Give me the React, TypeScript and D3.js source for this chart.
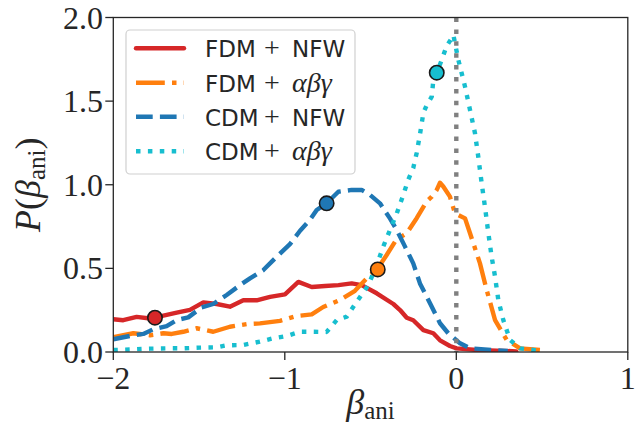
import React from 'react';
import * as d3 from 'd3';

// ---- data ----
const fdmNfwX = [-2.0, -1.942, -1.864, -1.786, -1.630, -1.553, -1.475, -1.397, -1.320, -1.242, -1.164, -1.086, -0.999, -0.921, -0.843, -0.765, -0.687, -0.610, -0.552, -0.464, -0.367, -0.328, -0.289, -0.251, -0.192, -0.134, -0.095, -0.037, 0.002, 0.119, 0.236, 0.35];
const fdmNfwY = [0.196, 0.19, 0.21, 0.20, 0.235, 0.252, 0.297, 0.287, 0.271, 0.309, 0.309, 0.33, 0.345, 0.419, 0.389, 0.395, 0.40, 0.41, 0.40, 0.351, 0.287, 0.251, 0.205, 0.19, 0.131, 0.112, 0.07, 0.036, 0.022, 0.012, 0.008, 0.004];

const fdmAbgX = [-2.0, -1.883, -1.786, -1.708, -1.659, -1.592, -1.514, -1.417, -1.320, -1.222, -1.145, -1.028, -0.931, -0.843, -0.776, -0.679, -0.591, -0.513, -0.458, -0.406, -0.357, -0.328, -0.289, -0.231, -0.173, -0.143, -0.114, -0.095, -0.076, -0.037, -0.008, 0.051, 0.080, 0.138, 0.177, 0.226, 0.294, 0.372, 0.488];
const fdmAbgY = [0.088, 0.112, 0.10, 0.112, 0.108, 0.121, 0.142, 0.121, 0.151, 0.167, 0.171, 0.186, 0.215, 0.225, 0.269, 0.311, 0.366, 0.45, 0.50, 0.58, 0.66, 0.686, 0.71, 0.80, 0.90, 0.929, 0.969, 1.012, 0.99, 0.929, 0.829, 0.799, 0.71, 0.53, 0.371, 0.191, 0.072, 0.022, 0.012];

const cdmNfwX = [-2.0, -1.903, -1.825, -1.767, -1.689, -1.630, -1.563, -1.485, -1.417, -1.339, -1.261, -1.203, -1.125, -1.047, -0.970, -0.911, -0.853, -0.814, -0.756, -0.688, -0.610, -0.552, -0.503, -0.445, -0.387, -0.347, -0.299, -0.251, -0.212, -0.143, -0.095, -0.047, 0.022, 0.080, 0.216, 0.30];
const cdmNfwY = [0.076, 0.096, 0.108, 0.136, 0.155, 0.191, 0.207, 0.267, 0.287, 0.341, 0.40, 0.44, 0.49, 0.57, 0.645, 0.725, 0.79, 0.849, 0.889, 0.958, 0.969, 0.969, 0.939, 0.889, 0.799, 0.729, 0.63, 0.53, 0.41, 0.271, 0.172, 0.112, 0.052, 0.022, 0.012, 0.006];

const cdmAbgX = [-2.0, -1.883, -1.786, -1.689, -1.592, -1.494, -1.397, -1.339, -1.242, -1.145, -1.067, -0.989, -0.911, -0.834, -0.756, -0.697, -0.639, -0.581, -0.513, -0.464, -0.426, -0.387, -0.347, -0.309, -0.280, -0.251, -0.231, -0.212, -0.192, -0.173, -0.143, -0.134, -0.114, -0.085, -0.056, -0.037, -0.017, 0.012, 0.051, 0.080, 0.109, 0.128, 0.148, 0.167, 0.187, 0.206, 0.226, 0.245, 0.274, 0.313, 0.372, 0.449, 0.50];
const cdmAbgY = [0.012, 0.016, 0.02, 0.022, 0.022, 0.026, 0.028, 0.04, 0.042, 0.062, 0.082, 0.096, 0.121, 0.121, 0.12, 0.191, 0.211, 0.30, 0.40, 0.52, 0.63, 0.729, 0.829, 0.94, 1.03, 1.10, 1.19, 1.30, 1.43, 1.475, 1.527, 1.626, 1.67, 1.746, 1.83, 1.86, 1.895, 1.746, 1.586, 1.447, 1.308, 1.168, 1.009, 0.869, 0.71, 0.57, 0.45, 0.311, 0.191, 0.072, 0.022, 0.012, 0.005];

const markerX = [-1.757, -0.458, -0.756, -0.114];
const markerY = [0.205, 0.494, 0.889, 1.67];

const xTicks = [-2, -1, 0, 1];
const yTicks = [0, 0.5, 1.0, 1.5, 2.0];

const labelPrefix = ['FDM', 'FDM', 'CDM', 'CDM'];
const labelSuffix = ['NFW', 'αβγ', 'NFW', 'αβγ'];

const colors = ['#d62728', '#ff7f0e', '#1f77b4', '#17becf'];
const dashes = ['none', '28.8 7.2 4.5 7.2', '16.7 7.2', '4.5 7.4'];

const W = 642;
const H = 430;
const LW = 4.4;
const INK = '#262626';

export default function App() {
  const x = d3.scaleLinear().domain([-2, 1]).range([113.3, 627.8]);
  const y = d3.scaleLinear().domain([0, 2]).range([352, 17.5]);
  const [x0, x1] = x.range();
  const [yb, yt] = y.range();

  const series = [
    [fdmNfwX, fdmNfwY],
    [fdmAbgX, fdmAbgY],
    [cdmNfwX, cdmNfwY],
    [cdmAbgX, cdmAbgY],
  ];
  const line = d3
    .line<[number, number]>()
    .x((d) => x(d[0]))
    .y((d) => y(d[1]));

  const fmtX = d3.format('d');
  const fmtY = d3.format('.1f');
  const serif = "'Liberation Serif', 'Times New Roman', serif";
  const sans = "'DejaVu Sans', sans-serif";

  const legendRows = [48.3, 82.7, 116.7, 151.3];

  return (
    <svg
      width={W}
      height={H}
      style={{ position: 'absolute', left: 0, top: 0, background: '#fff' }}
    >
      <rect x={0} y={0} width={W} height={H} fill="#fff" />
      <defs>
        <clipPath id="plotclip">
          <rect x={x0} y={yt} width={x1 - x0} height={yb - yt} />
        </clipPath>
      </defs>

      <g clipPath="url(#plotclip)">
        {series.map(([xs, ys], i) => (
          <path
            key={i}
            d={line(xs.map((v, k) => [v, ys[k]] as [number, number])) || ''}
            fill="none"
            stroke={colors[i]}
            strokeWidth={LW}
            strokeDasharray={dashes[i]}
            strokeLinejoin="round"
            strokeLinecap={i === 0 ? 'round' : 'butt'}
          />
        ))}
        <line
          x1={x(0)}
          x2={x(0)}
          y1={yt}
          y2={yb}
          stroke="#808080"
          strokeWidth={LW}
          strokeDasharray="4.5 7.4"
        />
        {markerX.map((mx, i) => (
          <circle
            key={i}
            cx={x(mx)}
            cy={y(markerY[i])}
            r={7.2}
            fill={colors[i]}
            stroke="#1a1a1a"
            strokeWidth={1.6}
          />
        ))}
      </g>

      {/* frame */}
      <rect
        x={x0}
        y={yt}
        width={x1 - x0}
        height={yb - yt}
        fill="none"
        stroke={INK}
        strokeWidth={1.3}
      />

      {/* x ticks */}
      {xTicks.map((t) => (
        <g key={t}>
          <line x1={x(t)} x2={x(t)} y1={yb} y2={yb + 8} stroke={INK} strokeWidth={1.3} />
          <text
            x={x(t)}
            y={389}
            textAnchor="middle"
            fontFamily={serif}
            fontSize={32}
            fill={INK}
          >
            {fmtX(t)}
          </text>
        </g>
      ))}

      {/* y ticks */}
      {yTicks.map((t) => (
        <g key={t}>
          <line x1={x0 - 8} x2={x0} y1={y(t)} y2={y(t)} stroke={INK} strokeWidth={1.3} />
          <text
            x={103}
            y={y(t) + 11}
            textAnchor="end"
            fontFamily={serif}
            fontSize={32}
            fill={INK}
          >
            {fmtY(t)}
          </text>
        </g>
      ))}

      {/* axis labels */}
      <text
        x={(x0 + x1) / 2}
        y={414}
        textAnchor="middle"
        fontFamily={serif}
        fontSize={36}
        fill={INK}
      >
        <tspan fontStyle="italic">β</tspan>
        <tspan fontSize={25} dy={5}>ani</tspan>
      </text>
      <text
        transform={`translate(40,${(yt + yb) / 2}) rotate(-90)`}
        textAnchor="middle"
        fontFamily={serif}
        fontSize={36}
        fill={INK}
      >
        <tspan fontStyle="italic">P</tspan>
        <tspan>(</tspan>
        <tspan fontStyle="italic">β</tspan>
        <tspan fontSize={25} dy={5}>ani</tspan>
        <tspan dy={-5}>)</tspan>
      </text>

      {/* legend */}
      <rect
        x={126}
        y={30}
        width={229}
        height={144}
        rx={4}
        fill="#fff"
        fillOpacity={0.8}
        stroke="#d0d0d0"
        strokeWidth={1.2}
      />
      {legendRows.map((ry, i) => (
        <g key={i}>
          <line
            x1={136}
            x2={184}
            y1={ry}
            y2={ry}
            stroke={colors[i]}
            strokeWidth={LW}
            strokeDasharray={dashes[i]}
            strokeLinecap={i === 0 ? 'round' : 'butt'}
          />
          <text x={205} y={ry + 9} fontFamily={sans} fontSize={23} fill={INK}>
            {labelPrefix[i]}
          </text>
          <text x={264} y={ry + 9} fontFamily={serif} fontSize={28} fill={INK}>
            +
          </text>
          {labelSuffix[i] === 'NFW' ? (
            <text x={292} y={ry + 9} fontFamily={sans} fontSize={23} fill={INK}>
              {labelSuffix[i]}
            </text>
          ) : (
            <text
              x={292}
              y={ry + 9}
              fontFamily={serif}
              fontStyle="italic"
              fontSize={28}
              fill={INK}
            >
              {labelSuffix[i]}
            </text>
          )}
        </g>
      ))}
    </svg>
  );
}
